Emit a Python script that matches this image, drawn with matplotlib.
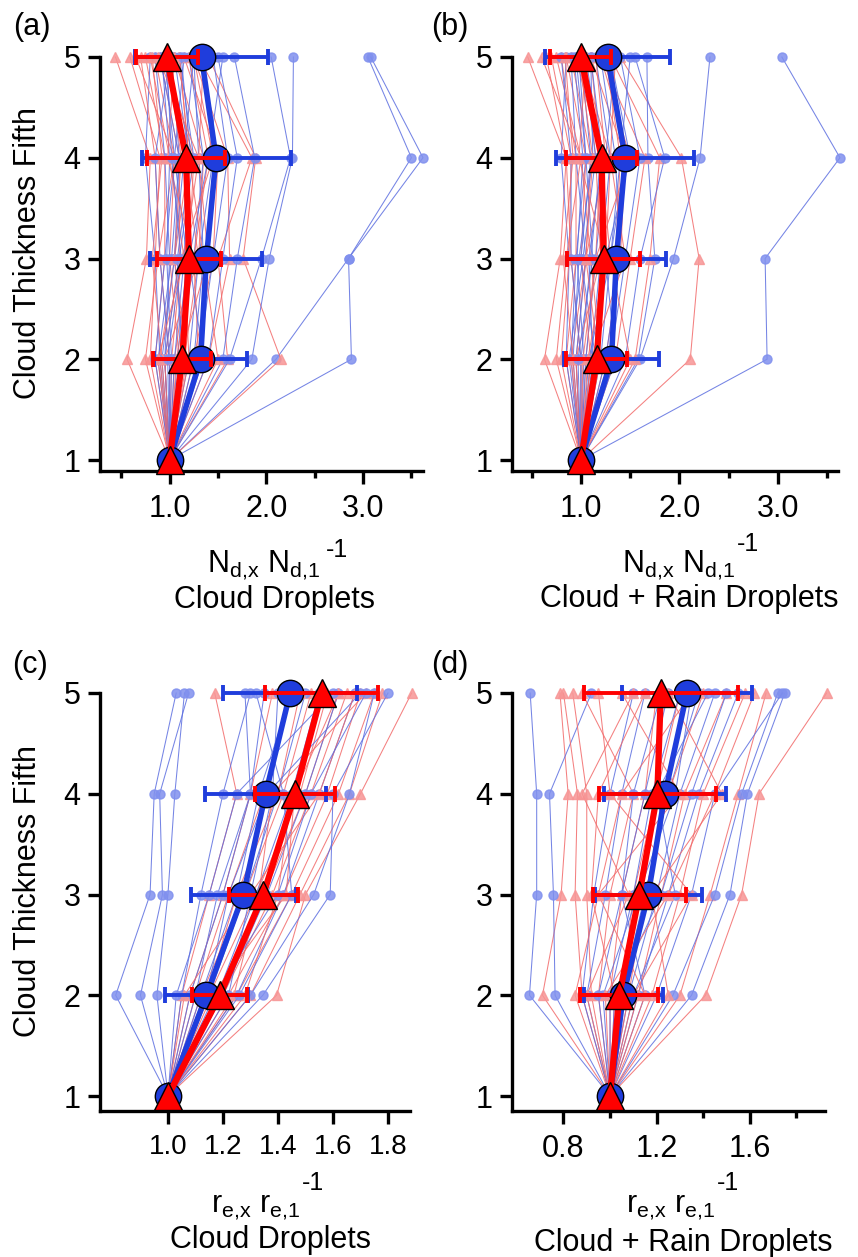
import matplotlib
matplotlib.use('Agg')
import matplotlib.pyplot as plt
from matplotlib.ticker import FixedLocator, NullFormatter

plt.rcParams['font.family'] = ['Liberation Sans', 'DejaVu Sans']
plt.rcParams['mathtext.fontset'] = 'custom'
plt.rcParams['mathtext.rm'] = 'Liberation Sans'
plt.rcParams['mathtext.it'] = 'Liberation Sans:italic'
plt.rcParams['mathtext.bf'] = 'Liberation Sans:bold'

levels = [1, 2, 3, 4, 5]
ytick_labels = ['1', '2', '3', '4', '5']

# ---------------- Panel (a): Nd ratio, cloud droplets ----------------
a_blue_profiles = [
    [1, 2.88, 2.85, 3.50, 3.05],
    [1, 2.10, 2.85, 3.62, 3.08],
    [1, 1.85, 2.03, 2.27, 2.28],
    [1, 1.62, 1.95, 2.25, 2.05],
    [1, 1.55, 1.70, 1.88, 1.67],
    [1, 1.40, 1.55, 1.70, 1.50],
    [1, 1.30, 1.45, 1.60, 1.45],
    [1, 1.20, 1.30, 1.45, 1.35],
    [1, 1.10, 1.25, 1.35, 1.20],
    [1, 0.95, 1.10, 1.25, 1.10],
    [1, 0.85, 0.95, 1.05, 0.95],
    [1, 0.90, 0.85, 0.75, 0.80],
    [1, 1.05, 1.15, 1.20, 1.05],
    [1, 1.15, 1.05, 1.10, 0.90],
    [1, 0.95, 1.00, 0.95, 0.85],
    [1, 1.25, 1.35, 1.30, 1.25],
    [1, 1.35, 1.20, 1.40, 1.55],
    [1, 1.00, 0.90, 0.85, 1.00],
    [1, 1.08, 1.18, 1.05, 1.15],
    [1, 0.92, 1.05, 1.15, 1.25],
    [1, 1.02, 0.97, 1.00, 0.92],
    [1, 0.88, 1.02, 1.10, 1.02],
    [1, 1.12, 1.08, 1.22, 1.12],
    [1, 0.98, 1.12, 1.02, 0.97],
]
a_red_profiles = [
    [1, 0.56, 0.76, 0.80, 0.44],
    [1, 2.15, 1.76, 1.89, 1.40],
    [1, 1.60, 1.50, 1.85, 1.30],
    [1, 1.40, 1.62, 1.60, 1.25],
    [1, 1.25, 1.45, 1.50, 1.15],
    [1, 1.15, 1.30, 1.35, 1.05],
    [1, 1.05, 1.20, 1.25, 0.95],
    [1, 0.95, 1.10, 1.10, 0.90],
    [1, 0.85, 0.95, 0.95, 0.75],
    [1, 0.80, 0.85, 0.90, 0.59],
    [1, 1.10, 1.00, 1.05, 0.85],
    [1, 1.20, 1.15, 1.00, 0.80],
    [1, 0.90, 1.05, 1.20, 1.10],
    [1, 1.00, 0.90, 0.85, 0.70],
    [1, 1.30, 1.25, 1.40, 1.20],
    [1, 0.95, 1.30, 1.15, 1.00],
    [1, 1.10, 1.40, 1.30, 1.35],
    [1, 0.75, 0.88, 1.05, 0.65],
    [1, 1.50, 1.35, 1.20, 1.10],
    [1, 1.02, 1.12, 1.45, 1.25],
    [1, 0.92, 0.82, 0.92, 0.82],
    [1, 1.18, 1.05, 1.12, 0.98],
    [1, 1.07, 1.25, 0.98, 1.05],
    [1, 0.88, 1.15, 1.30, 0.88],
]
a_blue_mean = [1.00, 1.32, 1.38, 1.48, 1.33]
a_blue_sd = [0.00, 0.48, 0.58, 0.77, 0.69]
a_red_mean = [1.00, 1.13, 1.20, 1.17, 0.97]
a_red_sd = [0.00, 0.30, 0.33, 0.40, 0.32]

# ---------------- Panel (b): Nd ratio, cloud + rain droplets ----------------
b_blue_profiles = [
    [1, 2.89, 2.87, 3.63, 3.04],
    [1, 1.60, 1.94, 2.21, 2.31],
    [1, 1.58, 1.75, 1.68, 1.67],
    [1, 1.45, 1.60, 1.85, 1.55],
    [1, 1.30, 1.45, 1.60, 1.40],
    [1, 1.20, 1.30, 1.45, 1.25],
    [1, 1.10, 1.20, 1.30, 1.15],
    [1, 1.00, 1.10, 1.20, 1.05],
    [1, 0.90, 0.95, 1.05, 0.95],
    [1, 0.85, 0.88, 0.80, 0.85],
    [1, 1.05, 1.15, 1.25, 1.35],
    [1, 0.95, 1.05, 0.95, 0.90],
    [1, 1.25, 1.40, 1.35, 1.20],
    [1, 1.15, 1.00, 1.10, 1.00],
    [1, 1.35, 1.25, 1.50, 1.30],
    [1, 0.92, 0.98, 1.12, 1.10],
    [1, 1.08, 1.30, 1.40, 1.50],
    [1, 1.00, 0.90, 0.90, 0.80],
    [1, 1.03, 0.96, 1.02, 0.93],
    [1, 0.88, 1.02, 1.15, 1.02],
    [1, 1.12, 1.08, 1.22, 1.10],
    [1, 0.97, 1.12, 1.05, 0.98],
]
b_red_profiles = [
    [1, 0.63, 0.79, 0.85, 0.46],
    [1, 2.11, 2.20, 2.02, 1.40],
    [1, 1.55, 1.70, 1.80, 1.30],
    [1, 1.35, 1.50, 1.65, 1.20],
    [1, 1.25, 1.40, 1.45, 1.10],
    [1, 1.15, 1.25, 1.30, 1.00],
    [1, 1.05, 1.15, 1.20, 0.95],
    [1, 0.95, 1.05, 1.10, 0.90],
    [1, 0.85, 0.95, 0.95, 0.80],
    [1, 0.80, 0.88, 0.90, 0.70],
    [1, 1.10, 1.00, 1.05, 0.85],
    [1, 1.20, 1.10, 1.00, 0.75],
    [1, 0.90, 1.05, 1.25, 1.15],
    [1, 1.00, 0.90, 0.85, 0.65],
    [1, 1.30, 1.35, 1.40, 1.25],
    [1, 0.95, 1.20, 1.15, 1.05],
    [1, 1.10, 1.45, 1.30, 1.35],
    [1, 0.75, 0.85, 1.00, 0.60],
    [1, 1.50, 1.30, 1.20, 1.10],
    [1, 1.02, 1.15, 1.50, 1.20],
    [1, 0.92, 0.82, 0.92, 0.84],
    [1, 1.18, 1.05, 1.12, 0.98],
    [1, 1.07, 1.25, 0.98, 1.05],
]
b_blue_mean = [1.00, 1.31, 1.36, 1.45, 1.27]
b_blue_sd = [0.00, 0.48, 0.50, 0.70, 0.63]
b_red_mean = [1.00, 1.16, 1.23, 1.21, 1.00]
b_red_sd = [0.00, 0.31, 0.37, 0.36, 0.31]

# ---------------- Panel (c): re ratio, cloud droplets ----------------
c_blue_profiles = [
    [1, 0.81, 0.935, 0.95, 1.03],
    [1, 0.90, 0.98, 0.97, 1.075],
    [1, 0.96, 1.00, 1.025, 1.06],
    [1, 1.05, 1.12, 1.20, 1.30],
    [1, 1.10, 1.18, 1.30, 1.28],
    [1, 1.12, 1.25, 1.33, 1.45],
    [1, 1.15, 1.28, 1.40, 1.50],
    [1, 1.18, 1.32, 1.45, 1.55],
    [1, 1.20, 1.36, 1.50, 1.62],
    [1, 1.25, 1.42, 1.55, 1.68],
    [1, 1.30, 1.53, 1.66, 1.75],
    [1, 1.345, 1.59, 1.60, 1.80],
    [1, 1.08, 1.20, 1.30, 1.35],
    [1, 1.14, 1.22, 1.36, 1.70],
    [1, 1.22, 1.30, 1.38, 1.40],
    [1, 1.17, 1.40, 1.52, 1.72],
    [1, 1.03, 1.15, 1.25, 1.60],
    [1, 1.26, 1.45, 1.42, 1.32],
]
c_red_profiles = [
    [1, 1.05, 1.15, 1.25, 1.17],
    [1, 1.10, 1.22, 1.35, 1.45],
    [1, 1.12, 1.28, 1.42, 1.52],
    [1, 1.15, 1.32, 1.48, 1.58],
    [1, 1.18, 1.35, 1.50, 1.62],
    [1, 1.20, 1.38, 1.52, 1.65],
    [1, 1.22, 1.42, 1.58, 1.70],
    [1, 1.25, 1.45, 1.62, 1.75],
    [1, 1.30, 1.48, 1.66, 1.78],
    [1, 1.395, 1.50, 1.70, 1.886],
    [1, 1.08, 1.20, 1.30, 1.38],
    [1, 1.14, 1.25, 1.40, 1.48],
    [1, 1.28, 1.40, 1.45, 1.56],
    [1, 1.06, 1.30, 1.55, 1.68],
    [1, 1.24, 1.33, 1.38, 1.72],
    [1, 1.16, 1.43, 1.46, 1.62],
]
c_blue_mean = [1.00, 1.14, 1.274, 1.355, 1.444]
c_blue_sd = [0.00, 0.15, 0.19, 0.22, 0.245]
c_red_mean = [1.00, 1.189, 1.347, 1.462, 1.559]
c_red_sd = [0.00, 0.10, 0.125, 0.145, 0.205]

# ---------------- Panel (d): re ratio, cloud + rain droplets ----------------
d_blue_profiles = [
    [1, 0.654, 0.685, 0.685, 0.657],
    [1, 0.764, 0.757, 0.74, 0.92],
    [1, 1.35, 1.515, 1.59, 1.75],
    [1, 1.27, 1.45, 1.565, 1.72],
    [1, 1.20, 1.35, 1.45, 1.74],
    [1, 1.12, 1.25, 1.38, 1.55],
    [1, 1.08, 1.20, 1.30, 1.45],
    [1, 1.05, 1.15, 1.25, 1.38],
    [1, 1.00, 1.10, 1.18, 1.30],
    [1, 0.95, 1.05, 1.10, 1.22],
    [1, 0.90, 0.98, 1.05, 1.15],
    [1, 0.88, 0.93, 1.00, 1.10],
    [1, 1.10, 1.28, 1.20, 1.42],
    [1, 1.02, 1.22, 1.35, 1.50],
    [1, 0.97, 1.12, 1.28, 1.35],
    [1, 1.15, 1.05, 1.15, 1.25],
]
d_red_profiles = [
    [1, 0.71, 0.79, 0.82, 0.785],
    [1, 1.41, 1.565, 1.64, 1.93],
    [1, 1.30, 1.43, 1.55, 1.67],
    [1, 0.88, 0.85, 0.86, 0.80],
    [1, 0.92, 0.90, 0.90, 0.84],
    [1, 0.95, 1.00, 1.10, 0.88],
    [1, 1.00, 1.05, 1.15, 1.20],
    [1, 1.05, 1.10, 1.20, 1.30],
    [1, 1.08, 1.15, 1.25, 1.40],
    [1, 1.12, 1.22, 1.32, 1.50],
    [1, 1.18, 1.30, 1.40, 1.58],
    [1, 0.85, 0.95, 1.30, 1.05],
    [1, 1.02, 0.92, 0.95, 1.15],
    [1, 1.10, 1.35, 1.00, 0.95],
    [1, 0.98, 1.25, 1.45, 1.62],
    [1, 1.15, 0.95, 1.05, 1.35],
    [1, 0.90, 1.08, 0.88, 1.10],
    [1, 1.25, 1.18, 1.48, 1.25],
]
d_blue_mean = [1.00, 1.057, 1.164, 1.236, 1.33]
d_blue_sd = [0.00, 0.17, 0.23, 0.26, 0.28]
d_red_mean = [1.00, 1.04, 1.126, 1.203, 1.218]
d_red_sd = [0.00, 0.167, 0.20, 0.25, 0.33]

# tick values / labels
ab_major = [1.0, 2.0, 3.0]
ab_major_labels = ['1.0', '2.0', '3.0']
ab_minor = [0.5, 1.5, 2.5, 3.5]
c_major = [1.0, 1.2, 1.4, 1.6, 1.8]
c_major_labels = ['1.0', '1.2', '1.4', '1.6', '1.8']
d_major = [0.8, 1.2, 1.6]
d_major_labels = ['0.8', '1.2', '1.6']
d_minor = [1.0, 1.4, 1.8]

# ---------------- styling ----------------
W, H = 858, 1257
fig = plt.figure(figsize=(W / 100, H / 100), dpi=100)

thin_blue_line = '#5d6fe0'
thin_blue_mk = '#8090ee'
thin_red_line = '#f26a6a'
thin_red_mk = '#f79595'
mean_blue = '#1f3ddc'
mean_red = '#ff0000'
FS = 22


def make_ax(left_px, right_px, y5_px, y1_px, ylim, xlim):
    ppu = (y1_px - y5_px) / 4.0
    bottom_px = y1_px + (1 - ylim[0]) * ppu
    top_px = y5_px - (ylim[1] - 5) * ppu
    ax = fig.add_axes([left_px / W, 1 - bottom_px / H,
                       (right_px - left_px) / W, (bottom_px - top_px) / H])
    ax.set_xlim(*xlim)
    ax.set_ylim(*ylim)
    for s in ['top', 'right']:
        ax.spines[s].set_visible(False)
    for s in ['left', 'bottom']:
        ax.spines[s].set_linewidth(2.4)
    ax.spines['left'].set_bounds(ylim[0], 5.0)
    ax.set_yticks(levels)
    ax.set_yticklabels(ytick_labels)
    ax.tick_params(axis='both', which='major', length=9, width=2.4,
                   direction='out', labelsize=FS, pad=5)
    ax.tick_params(axis='x', which='major', pad=8)
    ax.tick_params(axis='both', which='minor', length=5, width=2.4,
                   direction='out')
    ax.patch.set_alpha(0)
    return ax


def draw(ax, blue_profiles, red_profiles, bmean, bsd, rmean, rsd):
    n = max(len(blue_profiles), len(red_profiles))
    for i in range(n):
        if i < len(blue_profiles):
            ax.plot(blue_profiles[i], levels, color=thin_blue_line, lw=0.75,
                    marker='o', ms=6.5, mfc=thin_blue_mk, mec=thin_blue_mk,
                    alpha=0.85, zorder=2, clip_on=False)
        if i < len(red_profiles):
            ax.plot(red_profiles[i], levels, color=thin_red_line, lw=0.75,
                    marker='^', ms=7.5, mfc=thin_red_mk, mec=thin_red_mk,
                    alpha=0.85, zorder=2, clip_on=False)
    eb = ax.errorbar(bmean, levels, xerr=bsd, fmt='none', ecolor=mean_blue,
                     elinewidth=2.8, capsize=6, capthick=2.8, zorder=5)
    for art in eb.get_children():
        art.set_clip_on(False)
    ax.plot(bmean, levels, color=mean_blue, lw=4.0, marker='o', ms=19,
            mfc=mean_blue, mec='black', mew=1.0, zorder=6, clip_on=False)
    eb = ax.errorbar(rmean, levels, xerr=rsd, fmt='none', ecolor=mean_red,
                     elinewidth=2.8, capsize=6, capthick=2.8, zorder=7)
    for art in eb.get_children():
        art.set_clip_on(False)
    ax.plot(rmean, levels, color=mean_red, lw=4.5, marker='^', ms=20,
            mfc=mean_red, mec='black', mew=1.0, zorder=8, clip_on=False)


def ptext(x_px, y_px, s, **kw):
    fig.text(x_px / W, 1 - y_px / H, s, fontsize=kw.pop('fontsize', FS), **kw)


# (a)
ax_a = make_ax(100, 423, 57, 460, (0.894, 5.1), (0.28, 3.62))
draw(ax_a, a_blue_profiles, a_red_profiles, a_blue_mean, a_blue_sd, a_red_mean, a_red_sd)
ax_a.xaxis.set_major_locator(FixedLocator(ab_major))
ax_a.set_xticklabels(ab_major_labels)
ax_a.xaxis.set_minor_locator(FixedLocator(ab_minor))
ax_a.xaxis.set_minor_formatter(NullFormatter())

# (b)
ax_b = make_ax(512, 838, 57, 460, (0.894, 5.1), (0.30, 3.61))
draw(ax_b, b_blue_profiles, b_red_profiles, b_blue_mean, b_blue_sd, b_red_mean, b_red_sd)
ax_b.xaxis.set_major_locator(FixedLocator(ab_major))
ax_b.set_xticklabels(ab_major_labels)
ax_b.xaxis.set_minor_locator(FixedLocator(ab_minor))
ax_b.xaxis.set_minor_formatter(NullFormatter())

# (c)
ax_c = make_ax(100, 410, 693, 1096, (0.855, 5.1), (0.753, 1.88))
draw(ax_c, c_blue_profiles, c_red_profiles, c_blue_mean, c_blue_sd, c_red_mean, c_red_sd)
ax_c.xaxis.set_major_locator(FixedLocator(c_major))
ax_c.set_xticklabels(c_major_labels)
ax_c.tick_params(axis='x', labelsize=20)

# (d)
ax_d = make_ax(512, 825, 693, 1096, (0.855, 5.1), (0.579, 1.923))
draw(ax_d, d_blue_profiles, d_red_profiles, d_blue_mean, d_blue_sd, d_red_mean, d_red_sd)
ax_d.xaxis.set_major_locator(FixedLocator(d_major))
ax_d.set_xticklabels(d_major_labels)
ax_d.xaxis.set_minor_locator(FixedLocator(d_minor))
ax_d.xaxis.set_minor_formatter(NullFormatter())

# panel letters
ptext(13, 27, '(a)', ha='left', va='center')
ptext(431, 27, '(b)', ha='left', va='center')
ptext(12, 665, '(c)', ha='left', va='center')
ptext(431, 665, '(d)', ha='left', va='center')

# y labels
ptext(28, 253, 'Cloud Thickness Fifth', rotation=90, ha='center', va='center')
ptext(28, 891, 'Cloud Thickness Fifth', rotation=90, ha='center', va='center')

# x labels
nd_label = r'$\mathregular{N_{d{,}x}\ N_{d{,}1}}$'
re_label = r'$\mathregular{r_{e{,}x}\ r_{e{,}1}}$'
ptext(264, 572, nd_label, ha='center', va='baseline')
ptext(326, 550, '-1', ha='left', va='center', fontsize=18)
ptext(275, 608, 'Cloud Droplets', ha='center', va='baseline')

ptext(679, 572, nd_label, ha='center', va='baseline')
ptext(737, 544, '-1', ha='left', va='center', fontsize=18)
ptext(689, 607, 'Cloud + Rain Droplets', ha='center', va='baseline')

ptext(256, 1212, re_label, ha='center', va='baseline')
ptext(302, 1183, '-1', ha='left', va='center', fontsize=18)
ptext(270, 1248, 'Cloud Droplets', ha='center', va='baseline')

ptext(671, 1212, re_label, ha='center', va='baseline')
ptext(717, 1183, '-1', ha='left', va='center', fontsize=18)
ptext(683, 1251, 'Cloud + Rain Droplets', ha='center', va='baseline')

fig.savefig('out.png', dpi=100)
